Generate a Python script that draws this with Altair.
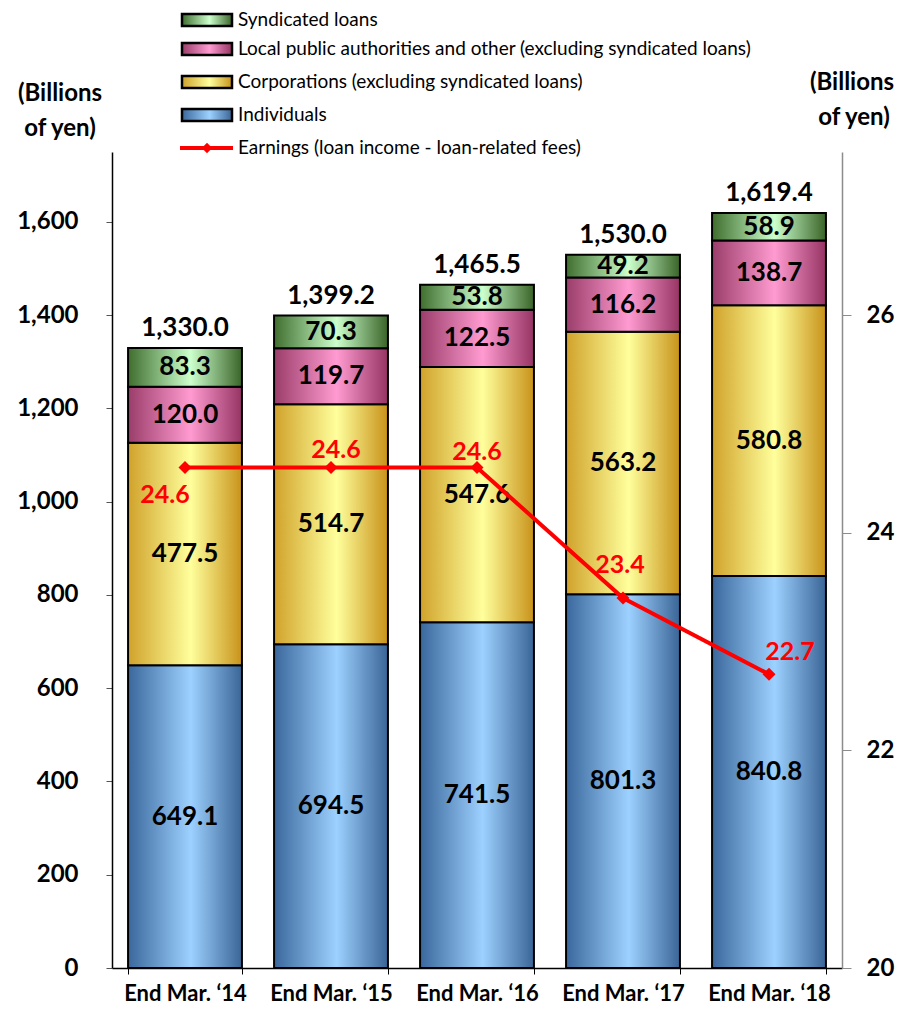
import altair as alt
import pandas as pd

# ---------------- data ----------------
categories = ["End Mar. \u201814", "End Mar. \u201815", "End Mar. \u201816", "End Mar. \u201817", "End Mar. \u201818"]
individuals = [649.1, 694.5, 741.5, 801.3, 840.8]
corporations = [477.5, 514.7, 547.6, 563.2, 580.8]
local_public = [120.0, 119.7, 122.5, 116.2, 138.7]
syndicated = [83.3, 70.3, 53.8, 49.2, 58.9]
totals = [1330.0, 1399.2, 1465.5, 1530.0, 1619.4]
earnings = [24.6, 24.6, 24.6, 23.4, 22.7]

series_names = [
    "Individuals",
    "Corporations (excluding syndicated loans)",
    "Local public authorities and other (excluding syndicated loans)",
    "Syndicated loans",
]
line_name = "Earnings (loan income - loan-related fees)"
left_ticks = [0, 200, 400, 600, 800, 1000, 1200, 1400, 1600]
right_ticks = [20, 22, 24, 26]

# ---------------- styles ----------------
FONT = "Lato"
RED = "#ff0000"
grad_colors = {
    "Individuals": ("#3a679c", "#9dd1ff", "#3a6596"),
    "Corporations (excluding syndicated loans)": ("#d0a22a", "#ffff9c", "#c8921a"),
    "Local public authorities and other (excluding syndicated loans)": ("#9a3d6a", "#ff9bd0", "#963464"),
    "Syndicated loans": ("#3f6e2e", "#ccffcc", "#3a6428"),
}
earn_dx = [-20, 5, 0, -3, 21]
earn_dy = [27, -18, -16, -33, -22]


def gradient(name):
    c0, c1, c2 = grad_colors[name]
    return alt.LinearGradient(
        gradient="linear",
        stops=[
            alt.GradientStop(color=c0, offset=0),
            alt.GradientStop(color=c1, offset=0.55),
            alt.GradientStop(color=c2, offset=1),
        ],
        x1=0, x2=1, y1=0, y2=0,
    )


# ---------------- tables ----------------
rows = []
for i, cat in enumerate(categories):
    base = 0.0
    for name, vals in zip(series_names, [individuals, corporations, local_public, syndicated]):
        v = vals[i]
        rows.append(dict(cat=cat, series=name, value=v, start=base, end=base + v, mid=base + v / 2))
        base += v
df = pd.DataFrame(rows)
tops = df.groupby("cat", sort=False)["end"].max().reindex(categories).values
df_tot = pd.DataFrame({"cat": categories, "total": totals, "top": tops})
df_line = pd.DataFrame({"cat": categories, "earn": earnings})

xscale = alt.Scale(domain=categories, paddingInner=0.22, paddingOuter=0.11)
xaxis = alt.Axis(
    title=None, labelAngle=0, labelFont=FONT, labelFontSize=22, labelFontWeight="bold",
    labelColor="black", domainColor="black", domainWidth=1.5, tickBand="extent",
    tickSize=6, tickColor="black", labelPadding=9, grid=False,
)
yscale = alt.Scale(domain=[0, 1750], nice=False, zero=True)
yaxis = alt.Axis(
    title=None, values=left_ticks, format=",.0f", labelFont=FONT, labelFontSize=24,
    labelFontWeight="bold", labelColor="black", domainColor="black", domainWidth=1.5,
    tickColor="#555555", tickSize=6, labelPadding=28, grid=False,
)
yscale_r = alt.Scale(domain=[20, 27.5], nice=False, zero=False)
yaxis_r = alt.Axis(
    title=None, orient="right", values=right_ticks, format=".0f", labelFont=FONT, labelFontSize=24,
    labelFontWeight="bold", labelColor="black", domainColor="#8c8c8c", domainWidth=1.5,
    tickColor="#8c8c8c", tickSize=9, labelPadding=15, grid=False,
)

X = alt.X("cat:N", sort=categories, scale=xscale, axis=xaxis)

left_layers = []
for name in series_names:
    sub = alt.Chart(df).transform_filter(alt.datum.series == name)
    left_layers.append(
        sub.mark_bar(fill=gradient(name), stroke="black", strokeWidth=2).encode(
            x=X, y=alt.Y("start:Q", scale=yscale, axis=yaxis), y2="end:Q"
        )
    )
seg_labels = alt.Chart(df).mark_text(
    font=FONT, fontSize=26, fontWeight="bold", color="black", baseline="middle"
).encode(x=X, y=alt.Y("mid:Q", scale=yscale, axis=yaxis), text=alt.Text("value:Q", format=".1f"))
left_layers.append(seg_labels)
tot_labels = alt.Chart(df_tot).mark_text(
    font=FONT, fontSize=26, fontWeight="bold", color="black", baseline="alphabetic", dy=-12
).encode(x=X, y=alt.Y("top:Q", scale=yscale, axis=yaxis), text=alt.Text("total:Q", format=",.1f"))
left_layers.append(tot_labels)

# axis titles
for txt, xv, yv in [("(Billions", -52, -58), ("of yen)", -52, -23),
                    ("(Billions", 740, -69), ("of yen)", 742, -34)]:
    left_layers.append(
        alt.Chart(df_tot.head(1)).mark_text(
            font=FONT, fontSize=24, fontWeight="bold", color="black", align="center", baseline="middle"
        ).encode(x=alt.value(xv), y=alt.value(yv), text=alt.value(txt))
    )

# legend
legend_order = list(reversed(series_names))
legend_y = [-132, -103, -70, -37]
for name, yv in zip(legend_order, legend_y):
    left_layers.append(
        alt.Chart(df_tot.head(1)).mark_rect(fill=gradient(name), stroke="black", strokeWidth=2.5).encode(
            x=alt.value(70), x2=alt.value(120), y=alt.value(yv - 6), y2=alt.value(yv + 6)
        )
    )
    left_layers.append(
        alt.Chart(df_tot.head(1)).mark_text(
            font=FONT, fontSize=19, color="black", align="left", baseline="middle"
        ).encode(x=alt.value(126), y=alt.value(yv), text=alt.value(name))
    )
left_layers.append(
    alt.Chart(df_tot.head(1)).mark_rule(color=RED, strokeWidth=4).encode(
        x=alt.value(68), x2=alt.value(121), y=alt.value(-4)
    )
)
left_layers.append(
    alt.Chart(df_tot.head(1)).mark_point(shape="diamond", filled=True, color=RED, size=110, opacity=1).encode(
        x=alt.value(95), y=alt.value(-4)
    )
)
left_layers.append(
    alt.Chart(df_tot.head(1)).mark_text(
        font=FONT, fontSize=19, color="black", align="left", baseline="middle"
    ).encode(x=alt.value(126), y=alt.value(-4), text=alt.value(line_name))
)

left = alt.layer(*left_layers)

YR = alt.Y("earn:Q", scale=yscale_r, axis=yaxis_r)
right_layers = [
    alt.Chart(df_line).mark_line(color=RED, strokeWidth=4).encode(x=X, y=YR),
    alt.Chart(df_line).mark_point(shape="diamond", filled=True, color=RED, size=170, opacity=1).encode(x=X, y=YR),
]
for i in range(len(categories)):
    right_layers.append(
        alt.Chart(df_line.iloc[[i]]).mark_text(
            font=FONT, fontSize=25, fontWeight="bold", color=RED, baseline="middle",
            dx=earn_dx[i], dy=earn_dy[i]
        ).encode(x=X, y=YR, text=alt.Text("earn:Q", format=".1f"))
    )
right = alt.layer(*right_layers)

chart = (
    alt.layer(left, right)
    .resolve_scale(y="independent")
    .properties(
        width=730, height=816,
        autosize=alt.AutoSizeParams(type="none"),
        padding={"left": 104, "top": 144, "right": 56, "bottom": 42},
        background="white",
    )
    .configure_view(stroke=None)
)

chart.save("out.html", embed_options={"renderer": "svg", "actions": False})
